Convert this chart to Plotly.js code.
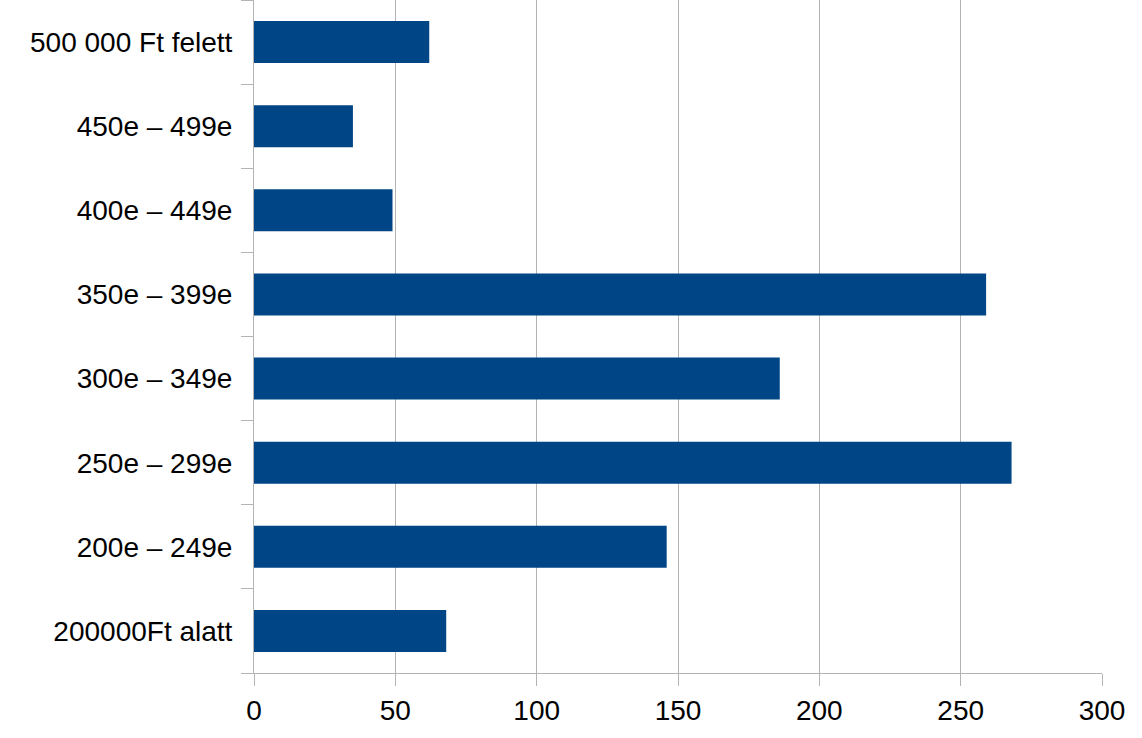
<!DOCTYPE html>
<html>
<head>
<meta charset="utf-8">
<script src="https://cdn.plot.ly/plotly-3.0.1.min.js"></script>
<style>html,body{margin:0;padding:0;background:#fff;}#chart{width:1142px;height:738px;}</style>
</head>
<body>
<div id="chart"></div>
<script>
const categories = ["200000Ft alatt", "200e – 249e", "250e – 299e", "300e – 349e", "350e – 399e", "400e – 449e", "450e – 499e", "500 000 Ft felett"];
const values = [68, 146, 268, 186, 259, 49, 35, 62];
const xTicks = [0, 50, 100, 150, 200, 250, 300];

const trace = {
  type: "bar",
  orientation: "h",
  y: categories,
  x: values,
  marker: {color: "#004586"},
  hoverinfo: "x+y"
};

const layout = {
  width: 1142,
  height: 738,
  margin: {l: 254, r: 40, t: 0, b: 65, pad: 0},
  paper_bgcolor: "#ffffff",
  plot_bgcolor: "#ffffff",
  bargap: 0.5,
  showlegend: false,
  font: {family: "Liberation Sans, Arial, sans-serif", size: 28, color: "#000000"},
  xaxis: {
    range: [0, 300],
    tickvals: xTicks,
    ticktext: xTicks.map(String),
    showgrid: true,
    gridcolor: "#b3b3b3",
    gridwidth: 1,
    zeroline: false,
    showline: true,
    linecolor: "#b3b3b3",
    linewidth: 1,
    ticks: "outside",
    ticklen: 12,
    tickcolor: "#b3b3b3",
    tickfont: {size: 28, color: "#000000"},
    fixedrange: true
  },
  yaxis: {
    type: "category",
    categoryorder: "array",
    categoryarray: categories,
    tickson: "boundaries",
    ticks: "outside",
    ticklen: 12,
    tickcolor: "#b3b3b3",
    showgrid: false,
    zeroline: false,
    showline: true,
    linecolor: "#b3b3b3",
    linewidth: 1,
    ticklabelstandoff: 15,
    tickfont: {size: 28, color: "#000000"},
    fixedrange: true
  }
};

Plotly.newPlot("chart", [trace], layout, {displayModeBar: false, staticPlot: true});
</script>
</body>
</html>
